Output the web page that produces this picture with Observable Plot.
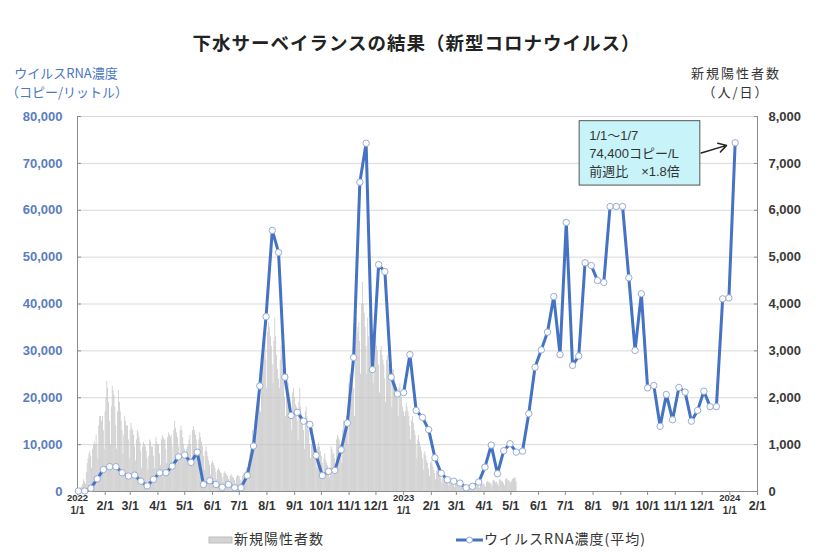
<!DOCTYPE html>
<html>
<head>
<meta charset="utf-8">
<script src="https://cdn.jsdelivr.net/npm/d3@7"></script>
<script src="https://cdn.jsdelivr.net/npm/@observablehq/plot@0.6"></script>
<style>
  body { margin: 0; background: #fff; }
  #wrap { position: relative; width: 833px; height: 558px; overflow: hidden; background: #fff;
          font-family: "Liberation Sans", "Noto Sans CJK JP", sans-serif; }
  .abs { position: absolute; white-space: nowrap; z-index: 2; }
  #title { left: 0; width: 833px; top: 30px; text-align: center; font-size: 18.5px; font-weight: bold;
           color: #222; letter-spacing: 1px; font-family: "Noto Sans CJK JP", sans-serif; line-height: 24px; }
  .ylab { font-family: "Noto Sans CJK JP", sans-serif; font-size: 13px; line-height: 19px; text-align: center; }
  #chart { position: absolute; left: 0; top: 60px; z-index: 1; }
  .leg { font-family: "Noto Sans CJK JP", sans-serif; font-size: 14px; color: #333; letter-spacing: 1px; line-height: 18px; }
</style>
</head>
<body>
<div id="wrap">
  <div id="chart"></div>
  <div id="title" class="abs">下水サーベイランスの結果（新型コロナウイルス）</div>
  <div class="abs ylab" style="left:6px;top:63px;width:120px;color:#4a78c2;">ウイルスRNA濃度<br>（コピー/リットル）</div>
  <div class="abs ylab" style="left:676px;top:63px;width:120px;color:#333;letter-spacing:2px;">新規陽性者数<br>（人/日）</div>
  <div class="abs leg" style="left:208px;top:529px;">
    <svg width="26" height="14" style="vertical-align:middle"><rect x="1" y="4" width="23" height="6" fill="#d4d4d4" stroke="#bdbdbd"/></svg>新規陽性者数
  </div>
  <div class="abs leg" style="left:456px;top:529px;">
    <svg width="28" height="14" style="vertical-align:middle"><line x1="0" y1="7" x2="27" y2="7" stroke="#4472c4" stroke-width="3"/><circle cx="13.5" cy="7" r="3" fill="#fff" stroke="#8faadc"/></svg>ウイルスRNA濃度(平均)
  </div>
</div>
<script>
// ---- Data ----
// Weekly average virus RNA concentration (copies/L); weeks dated by week-end (Sunday)
const rnaFirstWeekEnd = "2022-01-02";
const rnaValues = [
  100, 100, 700, 2700, 4700, 5300, 5300, 4000, 3300, 3500,
  2200, 1200, 2600, 4000, 4000, 5400, 7400, 7800, 6200, 8400,
  1500, 2300, 1500, 900, 1500, 800, 800, 3400, 9700, 22500,
  37300, 55700, 51000, 24400, 16200, 16900, 15000, 14300, 7700, 3400,
  4300, 4500, 8900, 14600, 28600, 66000, 74300, 26000, 48400, 46900,
  24400, 20800, 21100, 29200, 17300, 15800, 13200, 7200, 3900, 2500,
  2200, 1800, 800, 1100, 2000, 5200, 9900, 3800, 8700, 10200,
  8400, 8600, 16600, 26500, 30200, 34000, 41600, 29200, 57400, 26900,
  28900, 48800, 48200, 45000, 44600, 60800, 60800, 60800, 45600, 30100,
  42200, 22100, 22600, 13900, 20700, 15300, 22200, 21200, 15000, 17300,
  21400, 18100, 18100, 41100, 41300, 74400
];

// Daily new positive cases (people/day), from 2022-01-01 to 2023-05-07
const casesFirstDay = "2022-01-01";
const dailyCases = [
  30,40,40,60,80,100,150,
  250,200,150,400,600,700,800,
  850,750,500,900,1000,1050,1000,
  1200,1000,700,1400,1600,1600,1500,
  1600,1300,900,1700,2000,2350,2200,
  1900,1500,1000,1800,2250,2150,2050,
  1800,1400,900,1700,2150,1900,1700,
  1500,1300,800,1200,1600,1500,1400,
  1400,1100,700,1300,1450,1350,1300,
  1200,950,650,1100,1300,1250,1150,
  1050,850,500,950,1050,1000,950,
  850,700,450,750,1100,1050,950,
  950,750,500,1000,1150,1050,1000,
  1000,800,550,1100,1200,1150,1100,
  1100,900,600,1150,1250,1200,1150,
  1200,950,600,1300,1500,1350,1250,
  1150,950,650,1300,1400,1300,1150,
  1000,900,800,900,950,1000,1100,
  1200,1000,700,1300,1380,1300,1200,
  1100,900,600,1100,1250,1150,1050,
  950,750,450,850,950,850,750,
  650,550,350,600,650,600,550,
  500,400,250,450,500,450,400,
  380,300,200,380,420,380,350,
  320,260,170,320,360,330,300,
  280,230,160,300,340,330,320,
  250,220,180,330,380,400,420,
  500,420,350,650,800,900,950,
  1300,1100,900,1500,1700,1750,1800,
  2300,2000,1700,2700,3000,3100,2900,
  3200,2800,2200,3400,3600,3500,3300,
  3100,2700,2300,3200,3700,3300,2900,
  2600,2400,2200,2800,3100,2900,2600,
  2400,2000,1600,2300,2500,2300,2100,
  2000,1700,1300,2100,2200,2000,1850,
  1800,1500,1100,1900,2200,1800,1650,
  1500,1300,900,1700,1800,1600,1500,
  1300,1000,700,1000,1350,1200,1100,
  1000,800,500,950,1050,950,850,
  750,600,400,700,800,650,600,
  550,450,300,500,950,900,800,
  800,700,450,1100,1200,1150,1100,
  1000,900,600,1300,1500,1450,1400,
  1600,1400,1000,2300,2500,2200,2000,
  2400,2200,1600,3300,3700,3500,3400,
  3600,3200,2500,4000,4460,4000,3800,
  3500,3100,2500,3700,3300,3800,3500,
  3200,2900,2300,3400,3500,3300,3100,
  3000,2700,2100,3000,3100,2900,2800,
  2700,2400,1900,2800,2900,2700,2600,
  2500,2300,1800,2500,2600,2400,2300,
  2200,2000,1600,2200,2300,2100,2000,
  1800,1700,1600,1700,1900,1800,1700,
  1600,1400,1100,1500,1600,1450,1300,
  1200,1000,700,1100,1200,1050,950,
  850,700,450,800,850,750,650,
  600,480,320,600,650,580,520,
  450,380,250,430,470,420,380,
  320,260,170,280,300,270,240,
  220,180,120,200,220,190,170,
  160,130,90,160,170,150,140,
  130,110,80,140,150,130,120,
  120,100,70,130,140,120,110,
  110,90,60,120,130,110,100,
  120,100,70,150,170,160,150,
  160,130,90,190,210,200,180,
  180,150,100,220,240,210,190,
  200,160,110,230,260,230,210,
  210,170,120,250,280,250,230,
  230,200,180,220,260,270,290,
  280,200
];

const xStart = "2022-01-01";
const xEnd = "2024-02-01";
const leftTicks = [0, 10000, 20000, 30000, 40000, 50000, 60000, 70000, 80000];
const caseScale = 10; // right axis (people/day) = left axis / 10
const annotationText = "1/1～1/7\n74,400コピー/L\n前週比　×1.8倍";

// ---- Build ----
const parse = d3.utcParse("%Y-%m-%d");
const x0 = parse(xStart), x1 = parse(xEnd);
const c0 = parse(casesFirstDay), r0 = parse(rnaFirstWeekEnd);
const cases = dailyCases.map((v, i) => ({start: d3.utcDay.offset(c0, i), end: d3.utcDay.offset(c0, i + 1), y: v * caseScale}));
const rna = rnaValues.map((v, i) => ({date: d3.utcDay.offset(r0, 7 * i), value: v}));
const last = rna[rna.length - 1];
const monthTicks = d3.utcMonth.range(x0, d3.utcDay.offset(x1, 1));
const janTicks = monthTicks.filter(d => d.getUTCMonth() === 0 && d < x1);
const numFont = "Liberation Sans, Arial, sans-serif";

const chart = Plot.plot({
  width: 833,
  height: 465,
  marginTop: 56,
  marginBottom: 34,
  marginLeft: 77,
  marginRight: 76,
  style: {fontFamily: numFont, background: "white", overflow: "visible"},
  x: {type: "utc", domain: [x0, x1]},
  y: {domain: [0, 80000]},
  marks: [
    Plot.gridY(leftTicks, {stroke: "#d9d9d9", strokeOpacity: 1}),
    Plot.rectY(cases, {x1: "start", x2: "end", y: "y", fill: "#c2c2c2", insetRight: 0.2}),
    Plot.ruleX([x0, x1], {stroke: "#8c8c8c"}),
    Plot.ruleY([0], {stroke: "#8c8c8c"}),
    Plot.axisY(leftTicks, {anchor: "left", label: null, tickSize: -4, tickPadding: 19,
      tickFormat: d3.format(","), stroke: "#8c8c8c", fill: "#5b7dbe", fontSize: 13, fontWeight: "bold"}),
    Plot.axisY(leftTicks, {anchor: "right", label: null, tickSize: -4, tickPadding: 15,
      tickFormat: d => d3.format(",")(d / caseScale), stroke: "#8c8c8c", fill: "#3a3a3a", fontSize: 13, fontWeight: "bold"}),
    Plot.axisX(monthTicks, {anchor: "bottom", label: null, tickSize: 4, tickPadding: 6,
      tickFormat: d => d.getUTCMonth() === 0 ? "" : `${d.getUTCMonth() + 1}/1`,
      stroke: "#8c8c8c", fill: "#333", fontSize: 12.5, fontWeight: "bold"}),
    Plot.text(janTicks, {x: d => d, frameAnchor: "bottom", dy: 9, text: d => String(d.getUTCFullYear()), fontSize: 9.5, fontWeight: "bold", fill: "#333"}),
    Plot.text(janTicks, {x: d => d, frameAnchor: "bottom", dy: 22, text: d => `${d.getUTCMonth() + 1}/1`, fontSize: 10, fontWeight: "bold", fill: "#333"}),
    Plot.line(rna, {x: "date", y: "value", stroke: "#4472c4", strokeWidth: 3}),
    Plot.dot(rna, {x: "date", y: "value", r: 3.2, fill: "white", stroke: "#97acd6", strokeWidth: 1}),
    Plot.arrow([last], {x1: d => d3.utcDay.offset(d.date, -38), y1: d => d.value - 2200, x2: "date", y2: "value",
      insetEnd: 9, stroke: "#222", strokeWidth: 1.5, headLength: 9}),
    Plot.text([last], {x: "date", y: "value", text: () => annotationText, dx: -146, dy: -16,
      textAnchor: "start", lineAnchor: "top", lineHeight: 1.4, fontSize: 13, fill: "#333",
      fontFamily: "Liberation Sans, Noto Sans CJK JP, sans-serif"})
  ]
});

document.getElementById("chart").appendChild(chart);

// Box behind the annotation text
const annoText = Array.from(chart.querySelectorAll("text")).find(t => t.textContent.includes("74,400"));
if (annoText) {
  const bb = annoText.getBBox();
  const rect = document.createElementNS("http://www.w3.org/2000/svg", "rect");
  rect.setAttribute("x", bb.x - 10);
  rect.setAttribute("y", bb.y - 7);
  rect.setAttribute("width", bb.width + 30);
  rect.setAttribute("height", bb.height + 13);
  rect.setAttribute("fill", "#c8f3f9");
  rect.setAttribute("stroke", "#555");
  const tr = annoText.getAttribute("transform");
  if (tr) rect.setAttribute("transform", tr);
  annoText.parentNode.insertBefore(rect, annoText);
}
</script>
</body>
</html>
